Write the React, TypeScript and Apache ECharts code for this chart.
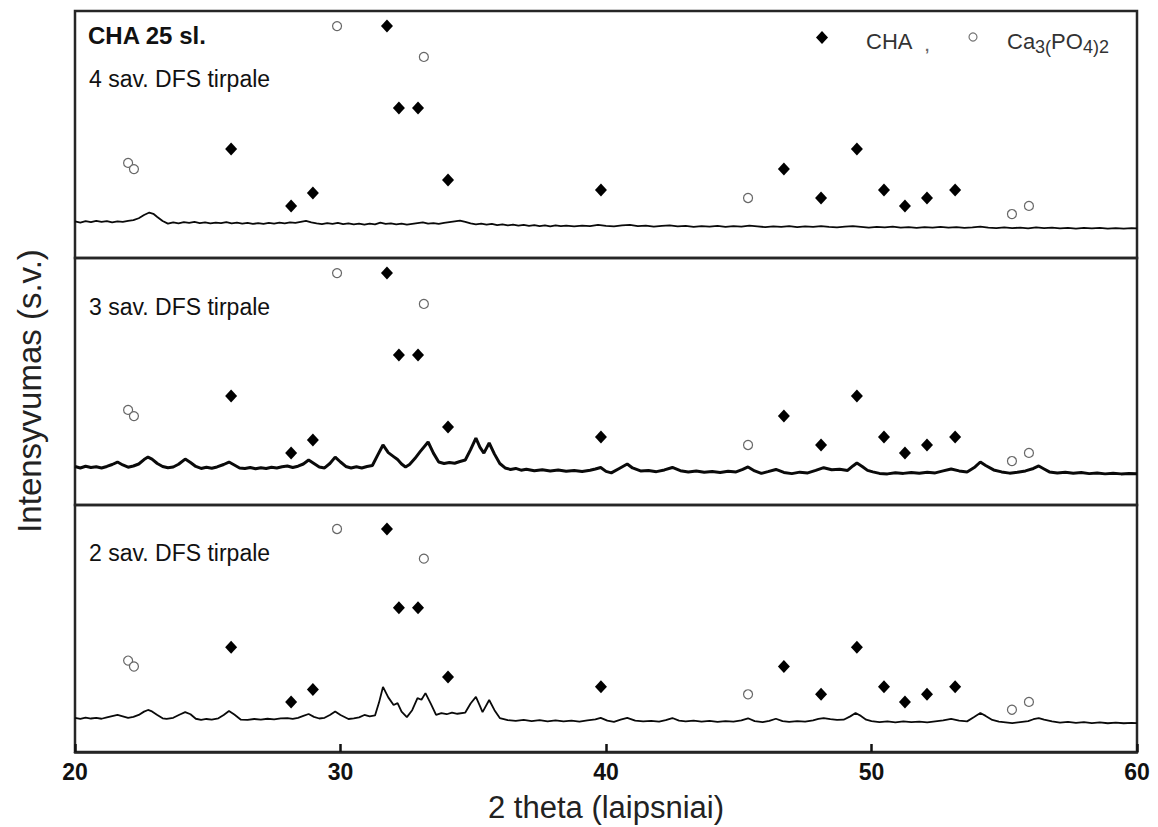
import React, { useEffect, useRef } from "react";
import * as echarts from "echarts";

// ---- data ----
const xTicks = [20, 30, 40, 50, 60];
const panelLabels = ["4 sav. DFS tirpale", "3 sav. DFS tirpale", "2 sav. DFS tirpale"];
const panelYMax = [100, 100, 104];

// CHA (diamond) reflections: 2theta and marker height (panel units)
const chaX = [25.88, 28.14, 28.96, 31.75, 32.2, 32.92, 34.05, 39.81, 46.7, 48.1, 49.45, 50.47, 51.26, 52.09, 53.15];
const chaY = [44.1, 21.1, 26.3, 93.9, 60.7, 60.7, 31.6, 27.5, 36.0, 24.3, 44.1, 27.5, 21.1, 24.3, 27.5];
// Ca3(PO4)2 (open circle) reflections
const capX = [22.0, 22.22, 29.87, 33.14, 45.35, 55.29, 55.93];
const capY = [38.5, 36.0, 93.9, 81.4, 24.3, 17.8, 21.1];

// 4 sav. DFS tirpale
const trace4 = [
[20.0,14.8],[20.2,14.3],[20.4,14.9],[20.6,14.5],[20.8,15.0],[21.0,14.6],[21.2,14.9],[21.4,14.4],[21.6,14.8],[21.8,14.6],[22.0,15.0],[22.2,15.3],[22.4,16.1],[22.6,17.4],[22.8,18.4],[22.95,17.9],[23.1,16.6],[23.3,15.0],[23.5,13.9],[23.7,14.4],[23.9,14.0],[24.1,14.5],[24.3,14.2],[24.5,14.6],[24.7,14.1],[24.9,14.4],[25.1,14.0],[25.3,14.3],[25.5,14.1],[25.7,14.5],[25.9,14.0],[26.1,14.3],[26.3,13.9],[26.5,14.2],[26.7,13.8],[26.9,14.1],[27.1,13.8],[27.3,14.2],[27.5,13.9],[27.7,14.3],[27.9,14.0],[28.1,14.4],[28.3,14.2],[28.5,14.6],[28.7,15.0],[28.9,14.4],[29.1,14.0],[29.3,13.7],[29.5,14.1],[29.7,13.8],[29.9,14.2],[30.1,13.7],[30.3,14.0],[30.5,13.6],[30.7,13.9],[30.9,13.5],[31.1,13.9],[31.3,13.6],[31.5,14.3],[31.7,13.8],[31.9,14.0],[32.1,13.6],[32.3,13.9],[32.5,13.5],[32.7,13.8],[32.9,14.1],[33.1,14.4],[33.3,13.9],[33.5,14.1],[33.7,13.8],[33.9,14.2],[34.1,14.5],[34.3,14.8],[34.5,15.1],[34.7,14.6],[34.9,14.0],[35.1,13.6],[35.3,13.9],[35.5,13.5],[35.7,13.8],[35.9,13.3],[36.1,13.6],[36.3,13.2],[36.5,13.5],[36.7,13.1],[36.9,13.4],[37.1,13.0],[37.3,13.3],[37.5,12.9],[37.7,13.2],[37.9,12.8],[38.1,13.2],[38.3,12.9],[38.5,13.1],[38.8,12.8],[39.1,13.1],[39.4,12.9],[39.7,13.4],[40.0,13.0],[40.3,12.8],[40.6,13.2],[40.9,13.4],[41.2,12.9],[41.5,13.1],[41.8,12.7],[42.1,13.0],[42.4,13.2],[42.7,12.8],[43.0,13.0],[43.3,12.6],[43.6,12.9],[43.9,12.7],[44.2,13.0],[44.5,12.6],[44.8,12.9],[45.1,12.7],[45.4,13.1],[45.7,12.8],[46.0,12.5],[46.3,12.8],[46.6,12.6],[46.9,12.9],[47.2,12.5],[47.5,12.8],[47.8,12.6],[48.1,12.9],[48.4,12.6],[48.7,12.4],[49.0,12.7],[49.3,12.9],[49.6,12.6],[49.9,12.3],[50.2,12.6],[50.5,12.4],[50.8,12.7],[51.1,12.3],[51.4,12.5],[51.7,12.2],[52.0,12.5],[52.3,12.3],[52.6,12.6],[52.9,12.3],[53.2,12.5],[53.5,12.2],[53.8,12.4],[54.1,12.7],[54.4,12.3],[54.7,12.1],[55.0,12.4],[55.3,12.1],[55.6,12.3],[55.9,12.0],[56.2,12.4],[56.5,12.1],[56.8,12.3],[57.1,12.0],[57.4,12.2],[57.7,11.9],[58.0,12.2],[58.3,12.0],[58.6,12.2],[58.9,11.9],[59.2,12.1],[59.5,11.9],[59.8,12.1],[60.0,12.0]
];

// 3 sav. DFS tirpale
const trace3 = [
[20.0,15.6],[20.2,15.0],[20.4,15.7],[20.6,15.2],[20.8,15.5],[21.0,15.0],[21.2,15.6],[21.4,16.4],[21.6,17.4],[21.8,16.2],[22.0,15.3],[22.2,15.8],[22.4,16.6],[22.6,18.4],[22.75,19.4],[22.9,18.6],[23.1,16.8],[23.3,15.6],[23.5,15.1],[23.7,15.4],[23.9,16.5],[24.15,18.6],[24.35,17.2],[24.55,15.6],[24.75,14.8],[24.95,15.3],[25.15,14.9],[25.35,15.4],[25.6,16.4],[25.8,17.4],[26.0,16.2],[26.2,15.0],[26.4,14.8],[26.6,15.2],[26.8,14.7],[27.0,15.1],[27.2,14.8],[27.4,15.3],[27.6,15.0],[27.8,15.5],[28.0,15.8],[28.2,15.2],[28.4,15.7],[28.6,16.6],[28.8,18.2],[29.0,16.8],[29.2,15.4],[29.4,15.0],[29.6,16.8],[29.8,19.4],[30.0,17.4],[30.2,15.6],[30.4,15.0],[30.6,15.5],[30.8,15.0],[31.0,15.6],[31.2,16.0],[31.4,20.2],[31.6,24.3],[31.8,21.2],[32.0,19.6],[32.15,18.4],[32.3,16.6],[32.45,15.4],[32.6,16.4],[32.8,18.8],[33.0,21.6],[33.3,25.5],[33.5,21.0],[33.7,17.4],[33.9,16.8],[34.1,17.2],[34.3,16.9],[34.5,17.6],[34.7,18.2],[34.9,22.4],[35.1,27.1],[35.25,23.4],[35.4,21.0],[35.6,25.1],[35.8,20.6],[36.0,16.8],[36.2,15.0],[36.4,14.4],[36.6,14.8],[36.8,14.1],[37.0,14.5],[37.3,13.9],[37.6,14.3],[37.9,13.8],[38.2,14.2],[38.5,13.7],[38.8,14.0],[39.1,13.6],[39.4,14.1],[39.6,14.6],[39.8,15.2],[40.0,13.6],[40.2,13.0],[40.5,14.8],[40.8,16.6],[41.0,15.0],[41.3,13.8],[41.6,14.0],[41.9,13.5],[42.2,14.2],[42.5,15.2],[42.8,13.9],[43.1,13.4],[43.4,13.8],[43.7,13.3],[44.0,13.6],[44.3,13.2],[44.6,13.7],[44.9,13.4],[45.15,14.4],[45.35,15.4],[45.6,13.8],[45.85,12.8],[46.1,13.5],[46.4,14.4],[46.7,13.2],[47.0,12.7],[47.3,13.3],[47.6,13.0],[47.9,14.0],[48.2,15.1],[48.5,14.3],[48.8,14.5],[49.1,14.0],[49.3,15.8],[49.45,17.0],[49.65,15.6],[49.85,14.0],[50.05,13.4],[50.3,12.8],[50.6,12.6],[50.9,13.1],[51.2,12.8],[51.5,13.2],[51.8,12.9],[52.1,13.3],[52.4,13.0],[52.7,13.8],[53.0,14.6],[53.3,13.8],[53.6,13.4],[53.9,15.4],[54.1,17.4],[54.3,16.0],[54.6,14.2],[54.9,13.4],[55.2,12.9],[55.5,13.3],[55.8,13.8],[56.1,14.8],[56.3,15.8],[56.5,14.6],[56.7,13.4],[57.0,13.0],[57.3,13.3],[57.6,12.9],[57.9,13.2],[58.2,12.7],[58.5,13.0],[58.8,12.6],[59.1,12.9],[59.4,12.6],[59.7,12.8],[60.0,12.7]
];

// 2 sav. DFS tirpale
const trace2 = [
[20.0,14.4],[20.2,13.9],[20.4,14.5],[20.6,14.1],[20.8,14.4],[21.0,14.0],[21.2,14.6],[21.4,15.1],[21.6,15.6],[21.8,15.0],[22.0,14.4],[22.2,14.8],[22.4,15.6],[22.6,17.0],[22.75,17.7],[22.9,17.1],[23.1,15.6],[23.3,14.2],[23.45,13.9],[23.7,14.4],[23.95,15.8],[24.15,16.8],[24.35,15.9],[24.55,14.0],[24.75,13.5],[24.95,13.9],[25.15,13.6],[25.4,14.2],[25.6,15.6],[25.8,17.3],[26.0,15.8],[26.25,13.6],[26.5,13.5],[26.75,13.9],[27.0,13.6],[27.25,14.0],[27.5,13.7],[27.75,14.2],[28.0,14.3],[28.2,13.9],[28.4,14.4],[28.6,15.2],[28.8,16.0],[29.0,14.8],[29.2,14.1],[29.4,14.4],[29.6,15.6],[29.8,17.1],[30.0,15.6],[30.3,13.9],[30.5,14.2],[30.7,14.6],[30.9,15.6],[31.1,15.0],[31.3,15.4],[31.45,20.8],[31.6,27.4],[31.8,23.0],[32.0,19.8],[32.15,20.6],[32.3,17.0],[32.5,14.7],[32.7,17.6],[32.9,22.7],[33.05,22.0],[33.2,24.8],[33.4,20.4],[33.6,15.6],[33.8,16.4],[34.0,15.9],[34.2,16.6],[34.4,16.1],[34.7,16.6],[34.9,20.4],[35.1,23.2],[35.25,19.4],[35.35,16.8],[35.6,21.9],[35.8,17.6],[36.0,14.3],[36.3,13.4],[36.6,13.1],[36.9,13.5],[37.2,13.0],[37.5,13.4],[37.8,12.9],[38.1,13.3],[38.4,12.9],[38.7,13.2],[39.0,12.8],[39.3,13.3],[39.6,13.7],[39.8,14.4],[40.05,13.2],[40.3,12.7],[40.55,13.6],[40.8,14.4],[41.1,13.2],[41.4,12.9],[41.7,13.1],[42.0,12.8],[42.25,13.4],[42.5,14.3],[42.75,13.2],[43.0,12.9],[43.3,13.2],[43.6,12.8],[43.9,13.1],[44.2,12.7],[44.5,13.0],[44.8,12.8],[45.1,13.3],[45.35,14.2],[45.6,13.0],[45.9,12.6],[46.15,13.1],[46.4,14.0],[46.65,13.0],[46.9,12.7],[47.2,13.0],[47.5,12.8],[47.8,13.3],[48.0,13.9],[48.2,14.3],[48.45,13.8],[48.7,13.5],[48.95,13.6],[49.2,15.0],[49.4,16.4],[49.6,15.2],[49.8,13.6],[50.0,13.0],[50.3,12.6],[50.6,12.9],[50.9,12.5],[51.2,12.9],[51.5,12.6],[51.8,12.8],[52.1,12.5],[52.4,12.9],[52.7,13.3],[53.0,13.9],[53.3,13.2],[53.6,12.9],[53.85,14.6],[54.1,16.4],[54.3,15.2],[54.55,13.5],[54.8,12.8],[55.05,12.5],[55.3,12.2],[55.6,12.6],[55.9,13.0],[56.1,13.8],[56.3,14.3],[56.5,13.6],[56.8,12.9],[57.1,12.4],[57.4,12.7],[57.7,12.3],[58.0,12.6],[58.3,12.2],[58.6,12.5],[58.9,12.1],[59.2,12.4],[59.5,12.1],[59.8,12.3],[60.0,12.2]
];

const traces = [trace4, trace3, trace2];
const traceWidths = [1.8, 3.0, 1.8];

const FONT = "'Liberation Sans', Arial, Helvetica, sans-serif";

export default function App() {
  const ref = useRef<HTMLDivElement>(null);

  useEffect(() => {
    document.body.style.margin = "0";
    if (!ref.current) return;
    const chart = echarts.init(ref.current, null, { renderer: "svg" });

    const gridTops = [11, 258, 505];
    const gridH = 247;
    const borderColor = "#262626";

    const grids = gridTops.map((t) => ({
      left: 75,
      right: 21,
      top: t,
      height: gridH,
      show: true,
      borderColor,
      borderWidth: 2.5,
      backgroundColor: "transparent",
    }));

    const xAxes = gridTops.map((_, i) => ({
      type: "value",
      gridIndex: i,
      min: xTicks[0],
      max: xTicks[xTicks.length - 1],
      interval: 10,
      show: i === 2,
      axisLine: { show: true, onZero: false, lineStyle: { color: borderColor, width: 2.5 } },
      axisTick: { show: true, inside: true, length: 8, lineStyle: { color: "#111", width: 2.5 } },
      axisLabel: {
        show: true,
        margin: 8,
        color: "#111",
        fontFamily: FONT,
        fontWeight: "bold",
        fontSize: 23,
      },
      splitLine: { show: false },
      name: i === 2 ? "2 theta (laipsniai)" : "",
      nameLocation: "middle",
      nameGap: 40,
      nameTextStyle: { color: "#222", fontFamily: FONT, fontSize: 31 },
    }));

    const yAxes = gridTops.map((_, i) => ({
      type: "value",
      gridIndex: i,
      min: 0,
      max: panelYMax[i],
      show: false,
      splitLine: { show: false },
    }));

    const chaData = chaX.map((x, k) => [x, chaY[k]]);
    const capData = capX.map((x, k) => [x, capY[k]]);

    const series: any[] = [];
    traces.forEach((tr, i) => {
      series.push({
        type: "line",
        xAxisIndex: i,
        yAxisIndex: i,
        data: tr,
        symbol: "none",
        smooth: false,
        lineStyle: { color: "#0a0a0a", width: traceWidths[i] },
        z: 2,
        silent: true,
      });
      series.push({
        type: "scatter",
        xAxisIndex: i,
        yAxisIndex: i,
        data: chaData,
        symbol: "diamond",
        symbolSize: [12, 13],
        itemStyle: { color: "#000", opacity: 1 },
        z: 3,
        silent: true,
      });
      series.push({
        type: "scatter",
        xAxisIndex: i,
        yAxisIndex: i,
        data: capData,
        symbol: "circle",
        symbolSize: 9,
        itemStyle: { color: "#fff", borderColor: "#666", borderWidth: 1.2, opacity: 1 },
        z: 3,
        silent: true,
      });
    });

    const labelStyle = (size: number, weight: string = "normal") => ({
      fill: "#111",
      font: `${weight} ${size}px ${FONT}`,
      verticalAlign: "middle",
      align: "left",
    });

    const graphic: any[] = [
      { type: "text", left: 88, top: 23, style: { text: "CHA 25 sl.", fill: "#111", font: `bold 24px ${FONT}` } },
      { type: "text", x: 89, y: 79, style: { text: panelLabels[0], ...labelStyle(23) } },
      { type: "text", x: 89, y: 307, style: { text: panelLabels[1], ...labelStyle(23) } },
      { type: "text", x: 89, y: 553, style: { text: panelLabels[2], ...labelStyle(23) } },
      // legend
      {
        type: "polygon",
        shape: { points: [[822, 31], [828, 37.5], [822, 44], [816, 37.5]] },
        style: { fill: "#000" },
      },
      { type: "text", x: 866, y: 41, style: { text: "CHA", fill: "#333", font: `22px ${FONT}`, verticalAlign: "middle" } },
      { type: "text", x: 925, y: 45, style: { text: ",", fill: "#666", font: `bold 15px ${FONT}`, verticalAlign: "middle" } },
      { type: "circle", shape: { cx: 973, cy: 37, r: 4 }, style: { fill: "#fff", stroke: "#777", lineWidth: 1.2 } },
      { type: "text", x: 1007, y: 41, style: { text: "Ca", fill: "#333", font: `22px ${FONT}`, verticalAlign: "middle" } },
      { type: "text", x: 1035, y: 47, style: { text: "3(", fill: "#333", font: `18px ${FONT}`, verticalAlign: "middle" } },
      { type: "text", x: 1051, y: 41, style: { text: "PO", fill: "#333", font: `22px ${FONT}`, verticalAlign: "middle" } },
      { type: "text", x: 1083, y: 47, style: { text: "4)2", fill: "#333", font: `18px ${FONT}`, verticalAlign: "middle" } },
      // y axis title
      {
        type: "text",
        x: 29,
        y: 391,
        rotation: Math.PI / 2,
        style: { text: "Intensyvumas (s.v.)", fill: "#222", font: `33px ${FONT}`, align: "center", verticalAlign: "middle" },
      },
    ];

    chart.setOption({
      animation: false,
      backgroundColor: "#fff",
      grid: grids,
      xAxis: xAxes,
      yAxis: yAxes,
      series,
      graphic,
    });

    return () => chart.dispose();
  }, []);

  return (
    <div
      ref={ref}
      style={{ position: "fixed", left: 0, top: 0, width: 1158, height: 827, background: "#fff" }}
    />
  );
}
